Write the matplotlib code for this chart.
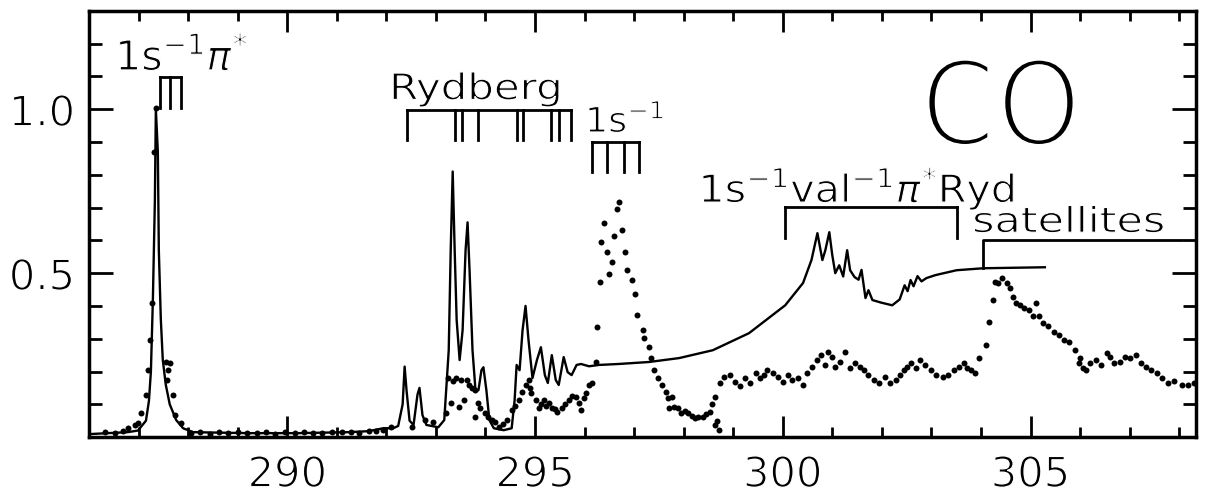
import matplotlib
matplotlib.use("Agg")
import matplotlib.pyplot as plt
from matplotlib.ticker import FixedLocator
from matplotlib.textpath import TextPath
from matplotlib.patches import PathPatch
from matplotlib.font_manager import FontProperties
from matplotlib.transforms import Affine2D, ScaledTranslation
import matplotlib.patheffects as pe

# photon energy (eV) and intensity of the solid spectrum
solid_ev = [286.00, 286.38, 286.78, 286.99, 287.15, 287.21, 287.25, 287.29, 287.33,
            287.35, 287.39, 287.41, 287.45, 287.49, 287.55, 287.63, 287.76, 287.90,
            288.10, 289.21, 290.22, 291.23, 291.64, 291.94, 292.14, 292.24, 292.33,
            292.37, 292.41, 292.47, 292.55, 292.63, 292.67, 292.73, 292.81, 293.05,
            293.17, 293.26, 293.30, 293.34, 293.38, 293.42, 293.48, 293.54, 293.60,
            293.64, 293.68, 293.74, 293.80, 293.86, 293.92, 293.96, 294.02, 294.08,
            294.17, 294.37, 294.53, 294.59, 294.63, 294.69, 294.75, 294.81, 294.87,
            294.95, 295.04, 295.12, 295.20, 295.26, 295.34, 295.42, 295.48, 295.58,
            295.66, 295.74, 295.84, 295.93, 296.09, 296.29, 296.69, 297.30, 297.91,
            298.59, 299.32, 300.05, 300.41, 300.58, 300.70, 300.80, 300.86, 300.94,
            301.00, 301.06, 301.14, 301.22, 301.30, 301.36, 301.45, 301.53, 301.59,
            301.67, 301.73, 301.81, 301.99, 302.21, 302.36, 302.46, 302.52, 302.58,
            302.64, 302.72, 302.80, 302.90, 303.08, 303.51, 304.05, 305.29]
solid_val = [0.009, 0.012, 0.015, 0.020, 0.050, 0.110, 0.200, 0.420, 0.720,
             1.000, 0.870, 0.570, 0.360, 0.235, 0.160, 0.100, 0.052, 0.027,
             0.015, 0.012, 0.012, 0.015, 0.018, 0.027, 0.027, 0.034, 0.100,
             0.215, 0.140, 0.050, 0.037, 0.130, 0.150, 0.067, 0.037, 0.030,
             0.052, 0.265, 0.570, 0.810, 0.570, 0.357, 0.235, 0.326, 0.570,
             0.655, 0.510, 0.265, 0.143, 0.143, 0.204, 0.213, 0.143, 0.052,
             0.027, 0.021, 0.027, 0.113, 0.220, 0.204, 0.326, 0.400, 0.296,
             0.180, 0.235, 0.274, 0.189, 0.165, 0.250, 0.174, 0.159, 0.244,
             0.198, 0.189, 0.220, 0.223, 0.216, 0.220, 0.223, 0.229, 0.241,
             0.265, 0.317, 0.402, 0.470, 0.540, 0.622, 0.540, 0.570, 0.625,
             0.555, 0.500, 0.524, 0.490, 0.570, 0.509, 0.488, 0.480, 0.510,
             0.424, 0.448, 0.418, 0.410, 0.402, 0.420, 0.463, 0.445, 0.479,
             0.460, 0.491, 0.475, 0.485, 0.494, 0.509, 0.515, 0.518]

# photon energy (eV) and intensity of the dotted spectrum
dots_ev = [286.32, 286.52, 286.68, 286.78, 286.93, 286.99, 287.05, 287.15, 287.19,
           287.23, 287.27, 287.31, 287.35, 287.55, 287.59, 287.63, 287.57, 287.69,
           287.74, 287.86, 288.06, 288.25, 288.45, 288.62, 288.80, 289.00, 289.18,
           289.40, 289.58, 289.75, 289.95, 290.15, 290.33, 290.52, 290.70, 290.90,
           291.10, 291.28, 291.45, 291.65, 291.80, 291.94, 292.10, 292.51, 292.79,
           292.95, 293.20, 293.25, 293.30, 293.35, 293.40, 293.46, 293.50, 293.56,
           293.62, 293.66, 293.72, 293.80, 293.86, 293.80, 293.90, 294.00, 294.06,
           294.13, 294.20, 294.27, 294.35, 294.43, 294.53, 294.60, 294.67, 294.73,
           294.81, 294.87, 294.90, 294.93, 295.02, 295.08, 295.13, 295.18, 295.23,
           295.28, 295.34, 295.40, 295.44, 295.54, 295.60, 295.68, 295.75, 295.82,
           295.88, 295.93, 295.99, 296.04, 296.09, 296.15, 296.23, 296.25, 296.31,
           296.33, 296.39, 296.49, 296.55, 296.59, 296.45, 296.65, 296.69, 296.75,
           296.82, 296.86, 296.96, 297.02, 297.06, 297.18, 297.20, 297.30, 297.35,
           297.40, 297.48, 297.56, 297.64, 297.68, 297.71, 297.77, 297.81, 297.88,
           297.95, 298.02, 298.09, 298.16, 298.23, 298.30, 298.39, 298.46, 298.53,
           298.58, 298.63, 298.68, 298.72, 298.63, 298.74, 298.82, 298.93, 299.04,
           299.13, 299.24, 299.33, 299.46, 299.55, 299.62, 299.69, 299.80, 299.91,
           300.00, 300.10, 300.19, 300.30, 300.41, 300.48, 300.60, 300.70, 300.78,
           300.85, 300.92, 301.00, 301.06, 301.16, 301.26, 301.35, 301.45, 301.55,
           301.63, 301.72, 301.85, 301.95, 302.07, 302.17, 302.28, 302.36, 302.44,
           302.50, 302.58, 302.68, 302.78, 302.88, 303.00, 303.10, 303.23, 303.33,
           303.45, 303.55, 303.65, 303.72, 303.79, 303.88, 303.97, 304.10, 304.16,
           304.24, 304.28, 304.35, 304.42, 304.52, 304.58, 304.64, 304.70, 304.78,
           304.86, 304.96, 305.05, 305.11, 305.18, 305.25, 305.35, 305.47, 305.57,
           305.67, 305.78, 305.89, 305.98, 306.00, 306.05, 306.12, 306.20, 306.32,
           306.43, 306.54, 306.60, 306.68, 306.80, 306.91, 307.00, 307.13, 307.22,
           307.33, 307.44, 307.55, 307.66, 307.78, 307.90, 308.06, 308.18, 308.30]
dots_val = [0.015, 0.012, 0.018, 0.027, 0.037, 0.043, 0.073, 0.128, 0.204,
            0.296, 0.409, 0.869, 1.003, 0.229, 0.204, 0.226, 0.174, 0.128,
            0.067, 0.043, 0.012, 0.015, 0.010, 0.014, 0.012, 0.016, 0.011,
            0.013, 0.015, 0.010, 0.014, 0.012, 0.016, 0.013, 0.011, 0.015,
            0.014, 0.017, 0.013, 0.020, 0.018, 0.021, 0.030, 0.030, 0.052,
            0.046, 0.073, 0.180, 0.104, 0.170, 0.180, 0.091, 0.175, 0.113,
            0.174, 0.160, 0.149, 0.143, 0.104, 0.061, 0.090, 0.073, 0.060,
            0.052, 0.045, 0.030, 0.040, 0.052, 0.082, 0.095, 0.113, 0.137,
            0.159, 0.174, 0.150, 0.134, 0.113, 0.088, 0.100, 0.113, 0.095,
            0.104, 0.088, 0.085, 0.076, 0.088, 0.100, 0.113, 0.125, 0.122,
            0.105, 0.082, 0.119, 0.135, 0.159, 0.165, 0.229, 0.335, 0.473,
            0.595, 0.652, 0.497, 0.534, 0.613, 0.564, 0.695, 0.716, 0.631,
            0.564, 0.509, 0.479, 0.436, 0.372, 0.326, 0.302, 0.274, 0.240,
            0.204, 0.180, 0.159, 0.137, 0.120, 0.088, 0.122, 0.091, 0.090,
            0.073, 0.080, 0.073, 0.065, 0.058, 0.060, 0.061, 0.070, 0.076,
            0.100, 0.037, 0.050, 0.021, 0.122, 0.165, 0.183, 0.190, 0.168,
            0.155, 0.180, 0.165, 0.195, 0.180, 0.190, 0.204, 0.195, 0.183,
            0.168, 0.190, 0.174, 0.180, 0.159, 0.195, 0.215, 0.235, 0.250,
            0.220, 0.259, 0.245, 0.213, 0.230, 0.259, 0.210, 0.226, 0.215,
            0.204, 0.190, 0.174, 0.165, 0.183, 0.165, 0.174, 0.190, 0.204,
            0.215, 0.226, 0.210, 0.235, 0.220, 0.204, 0.190, 0.183, 0.190,
            0.204, 0.215, 0.226, 0.210, 0.204, 0.195, 0.241, 0.280, 0.351,
            0.418, 0.473, 0.470, 0.485, 0.470, 0.455, 0.427, 0.410, 0.402,
            0.395, 0.387, 0.370, 0.409, 0.370, 0.348, 0.340, 0.320, 0.310,
            0.296, 0.290, 0.265, 0.226, 0.240, 0.210, 0.204, 0.225, 0.235,
            0.220, 0.256, 0.245, 0.226, 0.230, 0.244, 0.240, 0.250, 0.225,
            0.213, 0.205, 0.195, 0.180, 0.165, 0.170, 0.159, 0.160, 0.165]

# assignment combs: tooth energies
pistar_teeth = [287.43, 287.63, 287.86]
rydberg_teeth = [292.41, 293.38, 293.52, 293.86, 294.63, 294.75, 295.32, 295.48, 295.72]
ion_teeth = [296.15, 296.45, 296.79, 297.10]
val_bracket = [300.05, 303.51]
sat_bracket = [304.05, 308.06]

x_major = [290, 295, 300, 305]
x_labels = ["290", "295", "300", "305"]
y_major = [0.5, 1.0]
y_labels = ["0.5", "1.0"]

plt.rcParams['font.family'] = ['DejaVu Sans']
plt.rcParams['mathtext.fontset'] = 'dejavusans'

fig = plt.figure(figsize=(12.07, 4.95), dpi=100)
ax = fig.add_axes([0.0737, 0.117, 0.9172, 0.861])

ax.plot(solid_ev, solid_val, color='black', lw=1.7)
ax.plot(dots_ev, dots_val, 'o', color='black', ms=4.3, mew=0)


def comb(teeth, top, bottom):
    ax.plot([teeth[0], teeth[-1]], [top, top], color='black', lw=2)
    for t in teeth:
        ax.plot([t, t], [top, bottom], color='black', lw=2)


comb(pistar_teeth, 1.098, 1.003)
comb(rydberg_teeth, 0.997, 0.905)
comb(ion_teeth, 0.900, 0.808)
comb(val_bracket, 0.701, 0.607)
ax.plot([sat_bracket[0], sat_bracket[0], sat_bracket[1]], [0.515, 0.600, 0.600],
        color='black', lw=2)

# wide, thin-stroked lettering: text outline stretched sideways and eroded
font = FontProperties(family='DejaVu Sans')


def label(s, x, y, size, stretch=1.0, erode=0.8):
    tp = TextPath((0, 0), s, size=size, prop=font)
    x0 = tp.get_extents().x0
    tr = (Affine2D().translate(-x0, 0).scale(stretch / 72, 1 / 72)
          + fig.dpi_scale_trans + ScaledTranslation(x, y, ax.transData))
    ax.add_patch(PathPatch(tp, transform=tr, facecolor='black',
                           edgecolor='white', lw=erode, clip_on=False))


label(r'1s$^{-1}\pi^{*}$', 286.62, 1.119, 29.5)
label('Rydberg', 292.14, 1.030, 26, stretch=1.16)
label(r'1s$^{-1}$', 296.09, 0.930, 25, stretch=1.05)
label(r'1s$^{-1}$val$^{-1}\pi^{*}$Ryd', 298.39, 0.716, 27.5, stretch=1.08)
label('satellites', 303.87, 0.625, 25.3, stretch=1.22)
label('CO', 302.90, 0.890, 85, stretch=0.92, erode=4.3)

ax.set_xlim(286.0, 308.34)
ax.set_ylim(0, 1.30)
ax.xaxis.set_major_locator(FixedLocator(x_major))
ax.xaxis.set_minor_locator(FixedLocator(range(287, 309)))
ax.set_xticklabels(x_labels)
ax.yaxis.set_major_locator(FixedLocator(y_major))
ax.yaxis.set_minor_locator(FixedLocator([0.1, 0.2, 0.3, 0.4, 0.6, 0.7, 0.8, 0.9, 1.1, 1.2]))
ax.set_yticklabels(y_labels)

ax.tick_params(which='both', direction='in', top=True, right=True, width=2,
               labelsize=30)
ax.tick_params(axis='x', which='major', length=15, pad=12)
ax.tick_params(axis='x', which='minor', length=7.2)
ax.tick_params(axis='y', which='major', length=17, pad=10)
ax.tick_params(axis='y', which='minor', length=9.4)
for s in ax.spines.values():
    s.set_linewidth(2.5)
for t in ax.get_xticklabels() + ax.get_yticklabels():
    t.set_path_effects([pe.Stroke(linewidth=1.0, foreground='white')])

fig.savefig('out.png', dpi=100)
